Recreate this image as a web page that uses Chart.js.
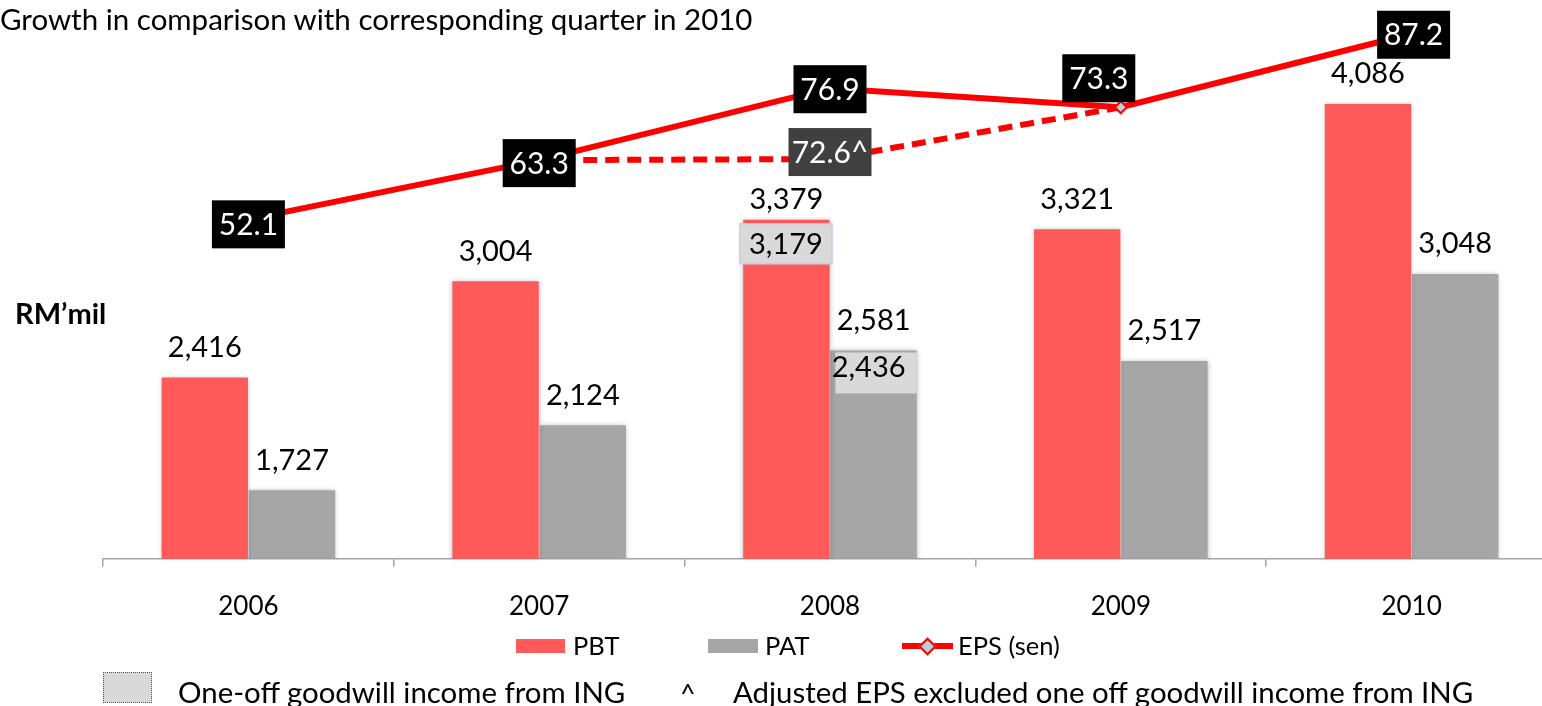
<!DOCTYPE html>
<html>
<head>
<meta charset="utf-8">
<title>PBT, PAT and EPS 2006-2010</title>
<script src="https://cdn.jsdelivr.net/npm/chart.js@4.4.1/dist/chart.umd.min.js"></script>
<style>
  html, body { margin: 0; padding: 0; background: #fff; overflow: hidden; }
  #wrap { position: relative; width: 1542px; height: 706px; overflow: hidden; font-family: Lato, sans-serif; color: #000; }
  #chart { position: absolute; left: 0; top: 0; }
  .txt { position: absolute; white-space: nowrap; line-height: 1; }
  .sw { position: absolute; }
</style>
</head>
<body>
<div id="wrap">
  <canvas id="chart" width="1600" height="706"></canvas>

  <div class="txt" style="left:0; top:4px; font-size:29.5px;">Growth in comparison with corresponding quarter in 2010</div>
  <div class="txt" style="left:15px; top:298px; font-size:29px; font-weight:bold;">RM’mil</div>

  <!-- legend -->
  <div class="sw" style="left:516px; top:639px; width:49px; height:14px; background:#FF5A5A;"></div>
  <div class="txt" style="left:573px; top:633px; font-size:25.5px;">PBT</div>
  <div class="sw" style="left:708px; top:639px; width:50px; height:14px; background:#A6A6A6;"></div>
  <div class="txt" style="left:765px; top:633px; font-size:25.5px;">PAT</div>
  <div class="sw" style="left:902px; top:643px; width:51px; height:6px; background:#FF0000;"></div>
  <div class="sw" style="left:921px; top:640px; width:9px; height:9px; background:#B4D2E1; border:2px solid #FF0000; transform:rotate(45deg);"></div>
  <div class="txt" style="left:958px; top:633px; font-size:25.5px;">EPS (sen)</div>

  <!-- notes -->
  <div class="sw" style="left:103px; top:672px; width:47px; height:29px; background:#D9D9D9; border:1px dotted #555;"></div>
  <div class="txt" style="left:178px; top:677px; font-size:29.4px;">One-off goodwill income from ING</div>
  <div class="txt" style="left:680px; top:679px; font-size:27px;">^</div>
  <div class="txt" style="left:733px; top:677px; font-size:29.4px;">Adjusted EPS excluded one off goodwill income from ING</div>
</div>

<script>
// data
const years = ['2006', '2007', '2008', '2009', '2010'];
const pbt = [2416, 3004, 3379, 3321, 4086];
const pat = [1727, 2124, 2581, 2517, 3048];
const eps = [52.1, 63.3, 76.9, 73.3, 87.2];
// adjusted EPS line as it is drawn (flat from 2007, labelled 72.6^ at 2008)
const adjEps = [null, 63.3, 63.5, 73.3, null];
const adjEpsLabels = ['', '', '72.6^', '', ''];
// one-off goodwill boxes on the 2008 bars
const pbtOneOff = [null, null, 3179, null, null];
const patOneOff = [null, null, 2436, null, null];

const FONT = 'Lato, sans-serif';
const fmt = v => v.toLocaleString('en-US');

// label box offsets from each EPS point (px)
const epsBoxShift = [[0, 5], [0, 3], [0, 1], [-22, -29], [2, 1]];

const barShadow = {
  id: 'barShadow',
  beforeDatasetDraw(chart, args) {
    if (args.meta.type !== 'bar') return;
    const c = chart.ctx;
    c.save();
    c.shadowColor = 'rgba(0,0,0,0.28)';
    c.shadowBlur = 5;
  },
  afterDatasetDraw(chart, args) {
    if (args.meta.type !== 'bar') return;
    chart.ctx.restore();
  }
};

function box(ctx, cx, cy, w, h, fill, text, color, stroke) {
  ctx.fillStyle = fill;
  ctx.fillRect(cx - w / 2, cy - h / 2, w, h);
  if (stroke) {
    ctx.strokeStyle = stroke;
    ctx.lineWidth = 1;
    ctx.strokeRect(cx - w / 2 + 0.5, cy - h / 2 + 0.5, w - 1, h - 1);
  }
  ctx.fillStyle = color;
  ctx.fillText(text, cx, cy + 1);
}

const labels = {
  id: 'labels',
  afterDatasetsDraw(chart) {
    const ctx = chart.ctx;
    ctx.save();
    ctx.textAlign = 'center';
    ctx.textBaseline = 'middle';
    ctx.font = '29px ' + FONT;

    // one-off boxes + bar values
    const pbtMeta = chart.getDatasetMeta(0);
    const patMeta = chart.getDatasetMeta(1);
    pbtMeta.data.forEach((bar, i) => {
      const hasBox = pbtOneOff[i] != null;
      if (hasBox) {
        const l = bar.x - bar.width / 2 - 4, r = bar.x + bar.width / 2 + 3;
        box(ctx, (l + r) / 2, bar.y + 24, r - l, 41, '#D9D9D9', fmt(pbtOneOff[i]), '#000', '#C4C4F4');
      }
      ctx.fillStyle = '#000';
      ctx.fillText(fmt(pbt[i]), bar.x, bar.y - (hasBox ? 20 : 30));
    });
    patMeta.data.forEach((bar, i) => {
      if (patOneOff[i] != null) {
        const l = bar.x - bar.width / 2 + 5, r = bar.x + bar.width / 2;
        ctx.fillStyle = '#D9D9D9';
        ctx.fillRect(l, bar.y + 2, r - l, 41);
        ctx.fillStyle = '#000';
        ctx.fillText(fmt(patOneOff[i]), bar.x - 5, bar.y + 17);
      }
      ctx.fillStyle = '#000';
      ctx.fillText(fmt(pat[i]), bar.x, bar.y - 30);
    });

    // EPS label boxes
    ctx.font = '30px ' + FONT;
    chart.getDatasetMeta(2).data.forEach((pt, i) => {
      const [dx, dy] = epsBoxShift[i];
      box(ctx, pt.x + dx, pt.y + dy, 73, 48, '#000', eps[i].toFixed(1), '#fff');
    });
    chart.getDatasetMeta(3).data.forEach((pt, i) => {
      if (!adjEpsLabels[i]) return;
      box(ctx, pt.x, pt.y - 7, 83, 48, '#404040', adjEpsLabels[i], '#fff');
    });
    ctx.restore();
  }
};

new Chart(document.getElementById('chart'), {
  type: 'bar',
  data: {
    labels: years,
    datasets: [
      { label: 'PBT', data: pbt, backgroundColor: '#FF5A5A', yAxisID: 'y', order: 2,
        categoryPercentage: 0.6, barPercentage: 0.99 },
      { label: 'PAT', data: pat, backgroundColor: '#A6A6A6', yAxisID: 'y', order: 2,
        categoryPercentage: 0.6, barPercentage: 0.99 },
      { type: 'line', label: 'EPS (sen)', data: eps, yAxisID: 'y1', order: 0,
        borderColor: '#FF0000', borderWidth: 6, tension: 0,
        pointStyle: 'rectRot', pointRadius: 6, pointBackgroundColor: '#B4D2E1',
        pointBorderColor: '#FF0000', pointBorderWidth: 2 },
      { type: 'line', label: 'Adjusted EPS', data: adjEps, yAxisID: 'y1', order: 1,
        borderColor: '#FF0000', borderWidth: 6, borderDash: [14, 8], pointRadius: 0,
        spanGaps: false }
    ]
  },
  options: {
    responsive: false,
    animation: false,
    layout: { padding: { left: 103, right: 43, top: 20, bottom: 60 } },
    plugins: { legend: { display: false }, tooltip: { enabled: false } },
    scales: {
      x: {
        offset: true,
        grid: { offset: true, drawOnChartArea: false, drawTicks: true, tickLength: 8, color: '#A6A6A6', lineWidth: 1.5 },
        border: { color: '#A6A6A6', width: 1.5 },
        ticks: { color: '#000', font: { family: FONT, size: 26 }, padding: 24 }
      },
      y: { display: false, min: 1309, max: 4599 },
      y1: { display: false, min: -12.1, max: 89.8 }
    }
  },
  plugins: [barShadow, labels]
});
</script>
</body>
</html>
